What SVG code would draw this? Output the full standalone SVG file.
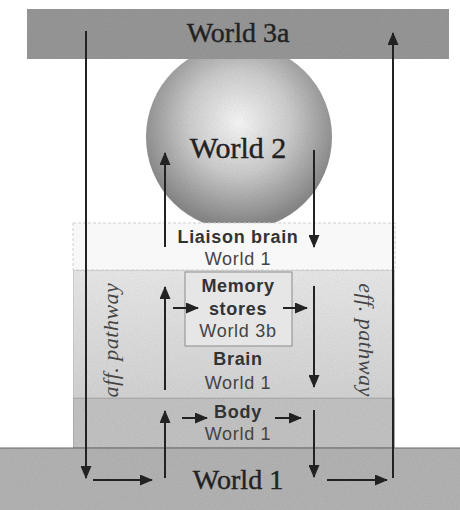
<svg xmlns="http://www.w3.org/2000/svg" width="460" height="510" viewBox="0 0 460 510">
<style>
.ser{font-family:"Liberation Serif","Times New Roman",serif;fill:#222;stroke:#222;stroke-width:0.4;text-anchor:middle}
.sb{font-family:"Liberation Sans",Arial,sans-serif;font-weight:bold;font-size:18px;fill:#333;text-anchor:middle;letter-spacing:0.7px}
.sr{font-family:"Liberation Sans",Arial,sans-serif;font-size:18px;fill:#444;text-anchor:middle;letter-spacing:0.7px}
.ln{stroke:#222;stroke-width:2;fill:none;marker-end:url(#ah)}
.it{font-family:"Liberation Serif","Times New Roman",serif;font-style:italic;font-size:22px;fill:#444;text-anchor:middle;letter-spacing:0.5px}
</style>
<defs>
<marker id="ah" viewBox="0 0 13 11" refX="12" refY="5.5" markerWidth="13" markerHeight="11" markerUnits="userSpaceOnUse" orient="auto">
<path d="M0,0 L13,5.5 L0,11 z" fill="#222"/>
</marker>
<radialGradient id="sph" cx="0.5" cy="0.42" r="0.55">
<stop offset="0" stop-color="#fbfbfb"/>
<stop offset="0.5" stop-color="#d0d0d0"/>
<stop offset="1" stop-color="#8a8a8a"/>
</radialGradient>
<linearGradient id="brg" x1="0" y1="0" x2="0" y2="1">
<stop offset="0" stop-color="#ececec"/>
<stop offset="1" stop-color="#d6d6d6"/>
</linearGradient>
<filter id="tex" x="0" y="0" width="1" height="1">
<feTurbulence type="fractalNoise" baseFrequency="0.9" numOctaves="2" seed="3" result="n"/>
<feColorMatrix in="n" type="matrix" values="0 0 0 0 0.5  0 0 0 0 0.5  0 0 0 0 0.5  0 0 0 0.35 0" result="g"/>
<feComposite in="g" in2="SourceGraphic" operator="in" result="gc"/>
<feBlend in="SourceGraphic" in2="gc" mode="multiply"/>
</filter>
</defs>

<g id="world2">
<circle cx="239" cy="137" r="93" fill="url(#sph)" filter="url(#tex)"/>
<text class="ser" x="238" y="158" font-size="30">World 2</text>
</g>

<g id="world3a">
<rect x="27" y="9" width="422" height="50" fill="#999" filter="url(#tex)"/>
<text class="ser" x="238" y="42" font-size="28">World 3a</text>
</g>

<g id="liaison">
<rect x="73" y="223" width="322" height="47" fill="#f8f8f8" stroke="#cfcfcf" stroke-width="1" stroke-dasharray="3 2"/>
<text class="sb" x="238" y="243">Liaison brain</text>
<text class="sr" x="238" y="265">World 1</text>
</g>

<g id="brain">
<rect x="73" y="270" width="322" height="128" fill="url(#brg)" filter="url(#tex)" stroke="#bdbdbd" stroke-width="1"/>
<text class="sb" x="238" y="365">Brain</text>
<text class="sr" x="238" y="389">World 1</text>
</g>

<g id="memory">
<rect x="185" y="272" width="107" height="74" fill="#e6e6e6" stroke="#8c8c8c" stroke-width="1"/>
<text class="sb" x="238" y="292">Memory</text>
<text class="sb" x="238" y="315">stores</text>
<text class="sr" x="238" y="337">World 3b</text>
</g>

<g id="body">
<rect x="73" y="398" width="322" height="50" fill="#c6c6c6" filter="url(#tex)" stroke="#9a9a9a" stroke-width="1"/>
<text class="sb" x="238" y="418">Body</text>
<text class="sr" x="238" y="440">World 1</text>
</g>

<g id="world1">
<rect x="0" y="448" width="460" height="62" fill="#b6b6b6" filter="url(#tex)"/>
<line x1="0" y1="448" x2="460" y2="448" stroke="#666" stroke-width="1"/>
<text class="ser" x="238" y="489" font-size="28">World 1</text>
</g>

<g id="aff">
<text class="it" transform="translate(118,340) rotate(-90)">aff. pathway</text>
</g>
<g id="eff">
<text class="it" transform="translate(359,340) rotate(90)">eff. pathway</text>
</g>

<g id="connectors">
<line class="ln" x1="86" y1="31" x2="86" y2="478"/>
<line class="ln" x1="393" y1="478" x2="393" y2="33"/>
<line class="ln" x1="93" y1="480" x2="152" y2="480"/>
<line class="ln" x1="327" y1="480" x2="387" y2="480"/>
<line class="ln" x1="165" y1="478" x2="165" y2="411"/>
<line class="ln" x1="165" y1="390" x2="165" y2="287"/>
<line class="ln" x1="165" y1="247" x2="165" y2="153"/>
<line class="ln" x1="314" y1="150" x2="314" y2="247"/>
<line class="ln" x1="314" y1="286" x2="314" y2="387"/>
<line class="ln" x1="314" y1="410" x2="314" y2="477"/>
<line class="ln" x1="173" y1="308" x2="198" y2="308"/>
<line class="ln" x1="283" y1="308" x2="307" y2="308"/>
<line class="ln" x1="182" y1="418" x2="207" y2="418"/>
<line class="ln" x1="275" y1="418" x2="301" y2="418"/>
</g>
</svg>
